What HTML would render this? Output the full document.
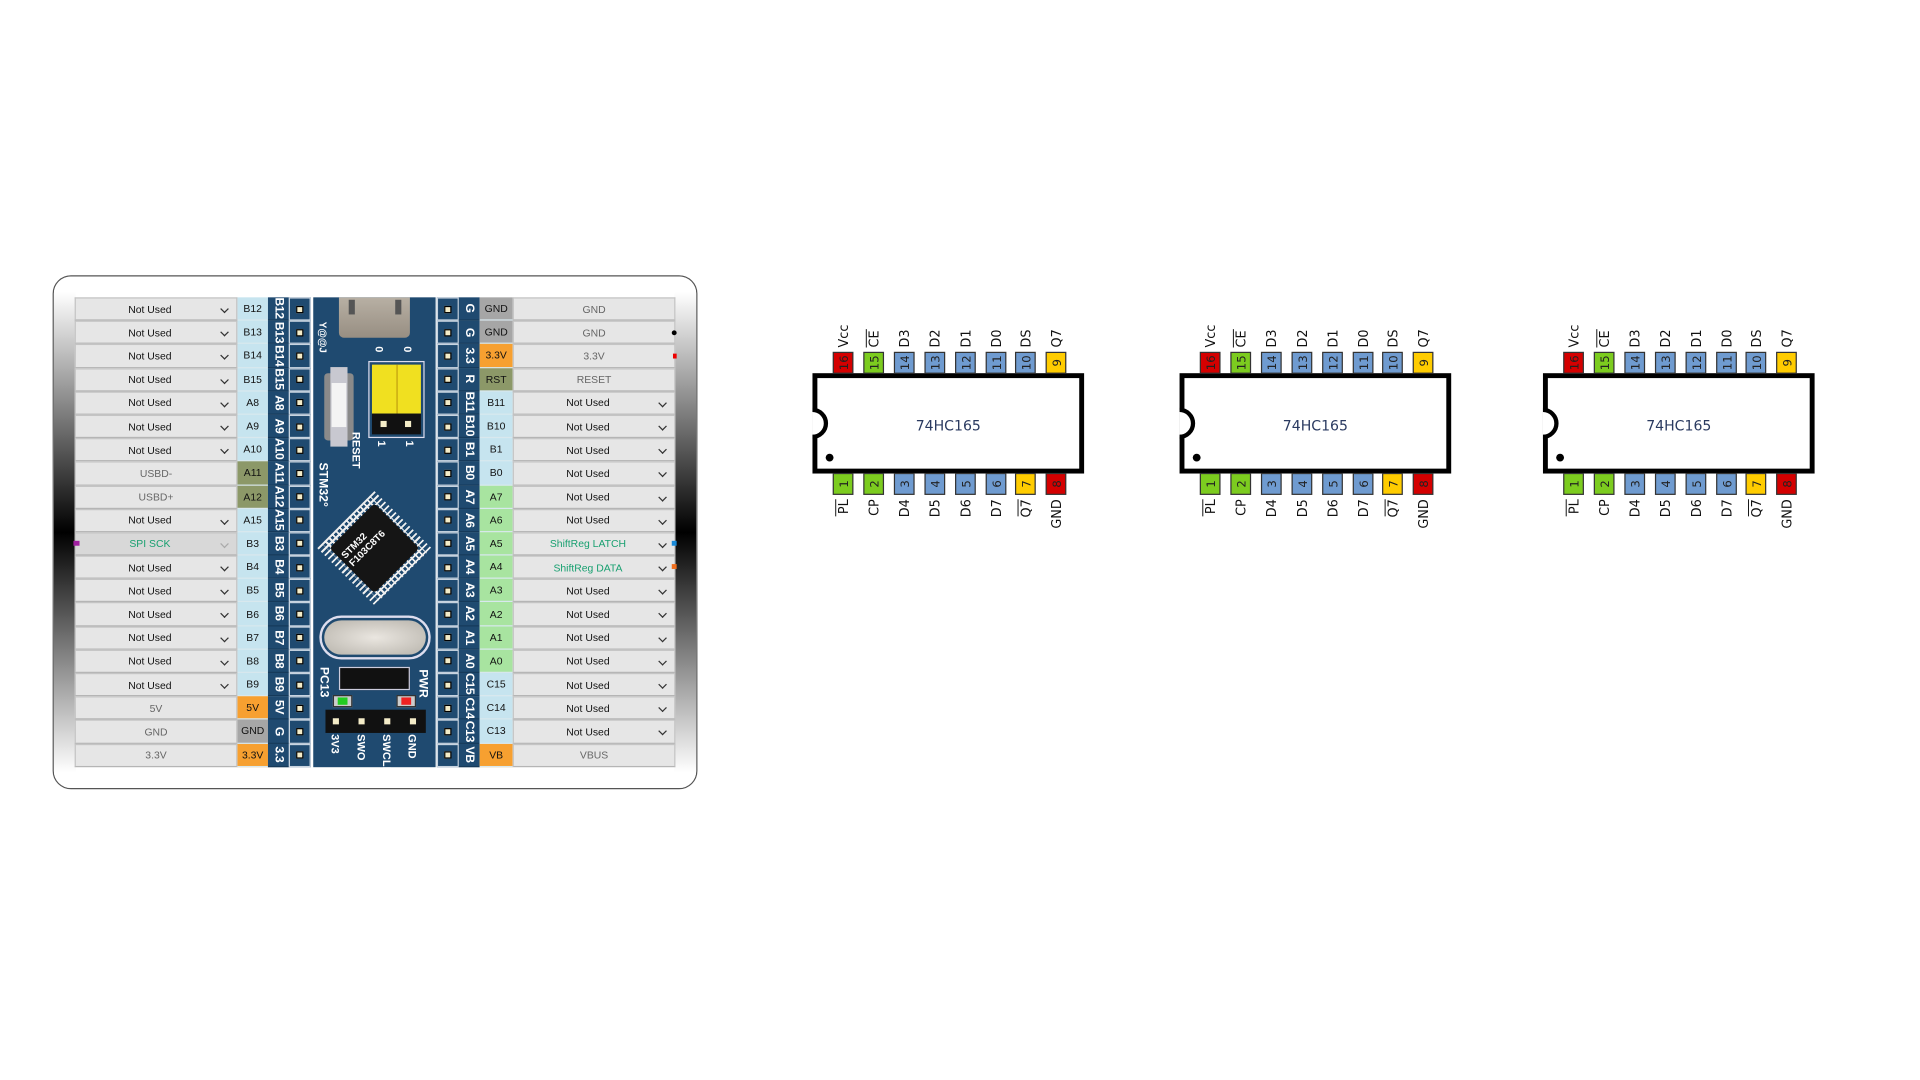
<!DOCTYPE html>
<html><head><meta charset="utf-8">
<style>
*{box-sizing:border-box;margin:0;padding:0}
html,body{width:1920px;height:1080px;overflow:hidden;background:#fff;font-family:"Liberation Sans",sans-serif}
#s{position:absolute;left:0;top:0;width:1552px;height:873px;transform:scale(1.2236);transform-origin:0 0}
.frame{position:absolute;left:43px;top:225px;width:527px;height:420px;border:1.5px solid #555;border-radius:15px;background:#fff;overflow:hidden}
.strip{position:absolute;top:0;bottom:0;width:18px;background:linear-gradient(to bottom,#fff 3%,#000 50%,#fff 97%)}
.rows{position:absolute;top:243px;height:384px;display:flex;flex-direction:column}
.r{height:19.2px;display:flex}
.dd{width:133px;background:#e6e6e6;border:1px solid #c4c4c4;border-bottom:1.5px solid #b5b5b5;font-size:8.5px;color:#111;display:flex;align-items:center;justify-content:center;position:relative;padding-right:10px}
.dd.n{color:#666;padding-right:0}
.dd.g{color:#18a070;background:#d8d8d8}
.dd i{position:absolute;right:7px;top:6px;width:5px;height:5px;border-right:1px solid #333;border-bottom:1px solid #333;transform:rotate(45deg)}
.dd.g i{border-color:#aaa}
.p{width:25px;background:#c6e4ef;font-size:8.5px;display:flex;align-items:center;justify-content:center;color:#111;border-bottom:1px solid #d8e8ee}
.p.rp{width:27px}
.v{width:17px;background:#1f4a70;color:#fff;font-weight:bold;font-size:10px;writing-mode:vertical-rl;display:flex;align-items:center;justify-content:center;border-bottom:1px solid #163a5a;letter-spacing:-.3px}
.d{width:18px;background:#1f4a70;border:1px solid #c8d4e0;display:flex;align-items:center;justify-content:center}
.d b{width:6px;height:6px;background:#f4ecc8;border:1px solid #000}
.or{background:#f7a030}.gy{background:#a6a6a6}.ol{background:#8c9868}.gr{background:#a8e4a0}
.pcb{position:absolute;left:256px;top:243px;width:100px;height:384px;background:#1f4a70}
.abs{position:absolute}
.wt{color:#fff;font-weight:bold;font-size:9px;position:absolute;white-space:nowrap}
</style></head><body><div id="s">
<div class="frame"><div class="strip" style="left:0"></div><div class="strip" style="right:0"></div></div>

<div class="rows" style="left:61px">
<div class="r"><div class="dd">Not Used<i></i></div><div class="p">B12</div><div class="v">B12</div><div class="d"><b></b></div></div>
<div class="r"><div class="dd">Not Used<i></i></div><div class="p">B13</div><div class="v">B13</div><div class="d"><b></b></div></div>
<div class="r"><div class="dd">Not Used<i></i></div><div class="p">B14</div><div class="v">B14</div><div class="d"><b></b></div></div>
<div class="r"><div class="dd">Not Used<i></i></div><div class="p">B15</div><div class="v">B15</div><div class="d"><b></b></div></div>
<div class="r"><div class="dd">Not Used<i></i></div><div class="p">A8</div><div class="v">A8</div><div class="d"><b></b></div></div>
<div class="r"><div class="dd">Not Used<i></i></div><div class="p">A9</div><div class="v">A9</div><div class="d"><b></b></div></div>
<div class="r"><div class="dd">Not Used<i></i></div><div class="p">A10</div><div class="v">A10</div><div class="d"><b></b></div></div>
<div class="r"><div class="dd n">USBD-</div><div class="p ol">A11</div><div class="v">A11</div><div class="d"><b></b></div></div>
<div class="r"><div class="dd n">USBD+</div><div class="p ol">A12</div><div class="v">A12</div><div class="d"><b></b></div></div>
<div class="r"><div class="dd">Not Used<i></i></div><div class="p">A15</div><div class="v">A15</div><div class="d"><b></b></div></div>
<div class="r"><div class="dd g">SPI SCK<i></i></div><div class="p">B3</div><div class="v">B3</div><div class="d"><b></b></div></div>
<div class="r"><div class="dd">Not Used<i></i></div><div class="p">B4</div><div class="v">B4</div><div class="d"><b></b></div></div>
<div class="r"><div class="dd">Not Used<i></i></div><div class="p">B5</div><div class="v">B5</div><div class="d"><b></b></div></div>
<div class="r"><div class="dd">Not Used<i></i></div><div class="p">B6</div><div class="v">B6</div><div class="d"><b></b></div></div>
<div class="r"><div class="dd">Not Used<i></i></div><div class="p">B7</div><div class="v">B7</div><div class="d"><b></b></div></div>
<div class="r"><div class="dd">Not Used<i></i></div><div class="p">B8</div><div class="v">B8</div><div class="d"><b></b></div></div>
<div class="r"><div class="dd">Not Used<i></i></div><div class="p">B9</div><div class="v">B9</div><div class="d"><b></b></div></div>
<div class="r"><div class="dd n">5V</div><div class="p or">5V</div><div class="v">5V</div><div class="d"><b></b></div></div>
<div class="r"><div class="dd n">GND</div><div class="p gy">GND</div><div class="v">G</div><div class="d"><b></b></div></div>
<div class="r"><div class="dd n">3.3V</div><div class="p or">3.3V</div><div class="v">3.3</div><div class="d"><b></b></div></div>
</div>

<div class="rows" style="left:357px">
<div class="r"><div class="d"><b></b></div><div class="v">G</div><div class="p rp gy">GND</div><div class="dd n">GND</div></div>
<div class="r"><div class="d"><b></b></div><div class="v">G</div><div class="p rp gy">GND</div><div class="dd n">GND</div></div>
<div class="r"><div class="d"><b></b></div><div class="v">3.3</div><div class="p rp or">3.3V</div><div class="dd n">3.3V</div></div>
<div class="r"><div class="d"><b></b></div><div class="v">R</div><div class="p rp ol">RST</div><div class="dd n">RESET</div></div>
<div class="r"><div class="d"><b></b></div><div class="v">B11</div><div class="p rp">B11</div><div class="dd">Not Used<i></i></div></div>
<div class="r"><div class="d"><b></b></div><div class="v">B10</div><div class="p rp">B10</div><div class="dd">Not Used<i></i></div></div>
<div class="r"><div class="d"><b></b></div><div class="v">B1</div><div class="p rp">B1</div><div class="dd">Not Used<i></i></div></div>
<div class="r"><div class="d"><b></b></div><div class="v">B0</div><div class="p rp">B0</div><div class="dd">Not Used<i></i></div></div>
<div class="r"><div class="d"><b></b></div><div class="v">A7</div><div class="p rp gr">A7</div><div class="dd">Not Used<i></i></div></div>
<div class="r"><div class="d"><b></b></div><div class="v">A6</div><div class="p rp gr">A6</div><div class="dd">Not Used<i></i></div></div>
<div class="r"><div class="d"><b></b></div><div class="v">A5</div><div class="p rp gr">A5</div><div class="dd g" style="background:#e6e6e6">ShiftReg LATCH<i style="border-color:#333"></i></div></div>
<div class="r"><div class="d"><b></b></div><div class="v">A4</div><div class="p rp gr">A4</div><div class="dd g" style="background:#e6e6e6">ShiftReg DATA<i style="border-color:#333"></i></div></div>
<div class="r"><div class="d"><b></b></div><div class="v">A3</div><div class="p rp gr">A3</div><div class="dd">Not Used<i></i></div></div>
<div class="r"><div class="d"><b></b></div><div class="v">A2</div><div class="p rp gr">A2</div><div class="dd">Not Used<i></i></div></div>
<div class="r"><div class="d"><b></b></div><div class="v">A1</div><div class="p rp gr">A1</div><div class="dd">Not Used<i></i></div></div>
<div class="r"><div class="d"><b></b></div><div class="v">A0</div><div class="p rp gr">A0</div><div class="dd">Not Used<i></i></div></div>
<div class="r"><div class="d"><b></b></div><div class="v">C15</div><div class="p rp">C15</div><div class="dd">Not Used<i></i></div></div>
<div class="r"><div class="d"><b></b></div><div class="v">C14</div><div class="p rp">C14</div><div class="dd">Not Used<i></i></div></div>
<div class="r"><div class="d"><b></b></div><div class="v">C13</div><div class="p rp">C13</div><div class="dd">Not Used<i></i></div></div>
<div class="r"><div class="d"><b></b></div><div class="v">VB</div><div class="p rp or">VB</div><div class="dd n">VBUS</div></div>
</div>

<div class="abs" style="left:60px;top:442px;width:5px;height:4px;background:#a020a0"></div>
<div class="abs" style="left:549px;top:270px;width:4px;height:4px;background:#000;border-radius:2px"></div>
<div class="abs" style="left:550px;top:289px;width:3px;height:4px;background:#e00"></div>
<div class="abs" style="left:549px;top:442px;width:4px;height:4px;background:#1a8ad8"></div>
<div class="abs" style="left:549px;top:461px;width:4px;height:4px;background:#f07020"></div>

<div class="pcb">
  <div class="abs" style="left:21px;top:0;width:58px;height:33px;background:linear-gradient(#b8b0a4,#978e82);border-radius:0 0 4px 4px"></div>
  <div class="abs" style="left:29px;top:2px;width:5px;height:12px;background:#555"></div>
  <div class="abs" style="left:67px;top:2px;width:5px;height:12px;background:#555"></div>
  <div class="wt" style="left:3px;top:20px;writing-mode:vertical-rl;font-size:8px">Y@@J</div>
  <div class="abs" style="left:9px;top:62px;width:24px;height:55px;background:#8a8a8a;border-radius:3px"></div>
  <div class="abs" style="left:14px;top:57px;width:14px;height:65px;background:#c8c8d0"></div>
  <div class="abs" style="left:15px;top:70px;width:12px;height:36px;background:#f4f4f4"></div>
  <div class="wt" style="left:30px;top:110px;writing-mode:vertical-rl">RESET</div>
  <div class="wt" style="left:2px;top:135px;writing-mode:vertical-rl;font-size:10px">STM32°</div>
  <div class="wt" style="left:49px;top:40px;writing-mode:vertical-rl">0</div><div class="wt" style="left:72px;top:40px;writing-mode:vertical-rl">0</div>
  <div class="abs" style="left:45px;top:52px;width:46px;height:63px;border:1.5px solid #dde;background:#1f4a70"></div>
  <div class="abs" style="left:48px;top:55px;width:40px;height:40px;background:#f0e020"></div>
  <div class="abs" style="left:68px;top:55px;width:1px;height:40px;background:#c0a010"></div>
  <div class="abs" style="left:48px;top:95px;width:40px;height:17px;background:#111"></div>
  <div class="abs" style="left:55px;top:101px;width:5px;height:5px;background:#f4ecc8"></div>
  <div class="abs" style="left:75px;top:101px;width:5px;height:5px;background:#f4ecc8"></div>
  <div class="wt" style="left:51px;top:117px;writing-mode:vertical-rl">1</div><div class="wt" style="left:74px;top:117px;writing-mode:vertical-rl">1</div>
  <div class="abs" style="left:17px;top:172px;width:66px;height:66px;transform:rotate(45deg);background:repeating-linear-gradient(90deg,#eee 0 1.5px,transparent 1.5px 4px);"></div>
  <div class="abs" style="left:17px;top:172px;width:66px;height:66px;transform:rotate(45deg);background:repeating-linear-gradient(0deg,#eee 0 1.5px,transparent 1.5px 4px);clip-path:polygon(0 8%,100% 8%,100% 92%,0 92%)"></div>
  <div class="abs" style="left:24px;top:179px;width:52px;height:52px;transform:rotate(45deg);background:#151515;border-radius:3px"></div>
  <div class="wt" style="left:22px;top:193px;transform:rotate(-45deg);font-size:8px;line-height:9px">STM32<br>F103C8T6</div>
  <div class="abs" style="left:5px;top:260px;width:91px;height:36px;border:2px solid #dde;border-radius:18px"></div>
  <div class="abs" style="left:9px;top:264px;width:83px;height:28px;background:radial-gradient(#eae6e0,#b8b4ac);border-radius:14px"></div>
  <div class="abs" style="left:21px;top:302px;width:58px;height:19px;background:#111;border:1.5px solid #ccd"></div>
  <div class="wt" style="left:3px;top:302px;writing-mode:vertical-rl;font-size:10px">PC13</div>
  <div class="wt" style="left:84px;top:304px;writing-mode:vertical-rl;font-size:10px">PWR</div>
  <div class="abs" style="left:16px;top:325px;width:16px;height:10px;background:#ccc;border:1px solid #333"></div>
  <div class="abs" style="left:20px;top:327px;width:8px;height:6px;background:#2c2"></div>
  <div class="abs" style="left:68px;top:325px;width:16px;height:10px;background:#ccc;border:1px solid #333"></div>
  <div class="abs" style="left:72px;top:327px;width:8px;height:6px;background:#e22"></div>
  <div class="abs" style="left:10px;top:337px;width:82px;height:19px;background:#111"></div>
  <div class="abs" style="left:16px;top:344px;width:5px;height:5px;background:#f4ecc8"></div>
  <div class="abs" style="left:37px;top:344px;width:5px;height:5px;background:#f4ecc8"></div>
  <div class="abs" style="left:58px;top:344px;width:5px;height:5px;background:#f4ecc8"></div>
  <div class="abs" style="left:79px;top:344px;width:5px;height:5px;background:#f4ecc8"></div>
  <div class="wt" style="left:13px;top:357px;writing-mode:vertical-rl">3V3</div>
  <div class="wt" style="left:34px;top:357px;writing-mode:vertical-rl">SWO</div>
  <div class="wt" style="left:55px;top:357px;writing-mode:vertical-rl">SWCLK</div>
  <div class="wt" style="left:76px;top:357px;writing-mode:vertical-rl">GND</div>
</div>

<svg class="abs" style="left:0;top:0" width="1552" height="873" font-family="DejaVu Sans, Liberation Sans, sans-serif">
<defs>
<g id="chip">
 <rect x="666" y="307" width="218" height="78" fill="#fff" stroke="#000" stroke-width="4"/>
 <path d="M664,335 a11,11 0 0 1 0,22" fill="#fff" stroke="#000" stroke-width="3.5"/>
 <circle cx="678" cy="374" r="3.2" fill="#000"/>
 <text x="775" y="352" font-size="11.5" fill="#2a3a60" text-anchor="middle">74HC165</text>
 <g stroke="#333" stroke-width="1">
  <rect x="681" y="288" width="16" height="17" fill="#d40000"/>
  <rect x="706" y="288" width="16" height="17" fill="#7ccc1f"/>
  <rect x="731" y="288" width="16" height="17" fill="#6f9bd0"/>
  <rect x="756" y="288" width="16" height="17" fill="#6f9bd0"/>
  <rect x="781" y="288" width="16" height="17" fill="#6f9bd0"/>
  <rect x="806" y="288" width="16" height="17" fill="#6f9bd0"/>
  <rect x="830" y="288" width="16" height="17" fill="#6f9bd0"/>
  <rect x="855" y="288" width="16" height="17" fill="#ffcc00"/>
  <rect x="681" y="387" width="16" height="17" fill="#7ccc1f"/>
  <rect x="706" y="387" width="16" height="17" fill="#7ccc1f"/>
  <rect x="731" y="387" width="16" height="17" fill="#6f9bd0"/>
  <rect x="756" y="387" width="16" height="17" fill="#6f9bd0"/>
  <rect x="781" y="387" width="16" height="17" fill="#6f9bd0"/>
  <rect x="806" y="387" width="16" height="17" fill="#6f9bd0"/>
  <rect x="830" y="387" width="16" height="17" fill="#ffcc00"/>
  <rect x="855" y="387" width="16" height="17" fill="#d40000"/>
 </g>
 <g font-size="9.5" fill="#222" text-anchor="middle">
  <text transform="translate(693,296.5) rotate(-90)">16</text>
  <text transform="translate(718,296.5) rotate(-90)">15</text>
  <text transform="translate(743,296.5) rotate(-90)">14</text>
  <text transform="translate(768,296.5) rotate(-90)">13</text>
  <text transform="translate(793,296.5) rotate(-90)">12</text>
  <text transform="translate(818,296.5) rotate(-90)">11</text>
  <text transform="translate(842,296.5) rotate(-90)">10</text>
  <text transform="translate(867,296.5) rotate(-90)">9</text>
  <text transform="translate(693,395.5) rotate(-90)">1</text>
  <text transform="translate(718,395.5) rotate(-90)">2</text>
  <text transform="translate(743,395.5) rotate(-90)">3</text>
  <text transform="translate(768,395.5) rotate(-90)">4</text>
  <text transform="translate(793,395.5) rotate(-90)">5</text>
  <text transform="translate(818,395.5) rotate(-90)">6</text>
  <text transform="translate(842,395.5) rotate(-90)">7</text>
  <text transform="translate(867,395.5) rotate(-90)">8</text>
 </g>
 <g font-size="10.5" fill="#111">
  <text transform="translate(693,284) rotate(-90)">Vcc</text>
  <text transform="translate(718,284) rotate(-90)">CE</text>
  <line x1="708" y1="269" x2="708" y2="284" stroke="#111" stroke-width="0.8"/>
  <text transform="translate(743,284) rotate(-90)">D3</text>
  <text transform="translate(768,284) rotate(-90)">D2</text>
  <text transform="translate(793,284) rotate(-90)">D1</text>
  <text transform="translate(818,284) rotate(-90)">D0</text>
  <text transform="translate(842,284) rotate(-90)">DS</text>
  <text transform="translate(867,284) rotate(-90)">Q7</text>
 </g>
 <g font-size="10.5" fill="#111" text-anchor="end">
  <text transform="translate(693,408) rotate(-90)">PL</text>
  <line x1="683" y1="408" x2="683" y2="422" stroke="#111" stroke-width="0.8"/>
  <text transform="translate(718,408) rotate(-90)">CP</text>
  <text transform="translate(743,408) rotate(-90)">D4</text>
  <text transform="translate(768,408) rotate(-90)">D5</text>
  <text transform="translate(793,408) rotate(-90)">D6</text>
  <text transform="translate(818,408) rotate(-90)">D7</text>
  <text transform="translate(842,408) rotate(-90)">Q7</text>
  <line x1="832" y1="408" x2="832" y2="422" stroke="#111" stroke-width="0.8"/>
  <text transform="translate(867,408) rotate(-90)">GND</text>
 </g>
</g>
</defs>
<use href="#chip"/>
<use href="#chip" x="300"/>
<use href="#chip" x="597"/>
</svg>
</div></body></html>
